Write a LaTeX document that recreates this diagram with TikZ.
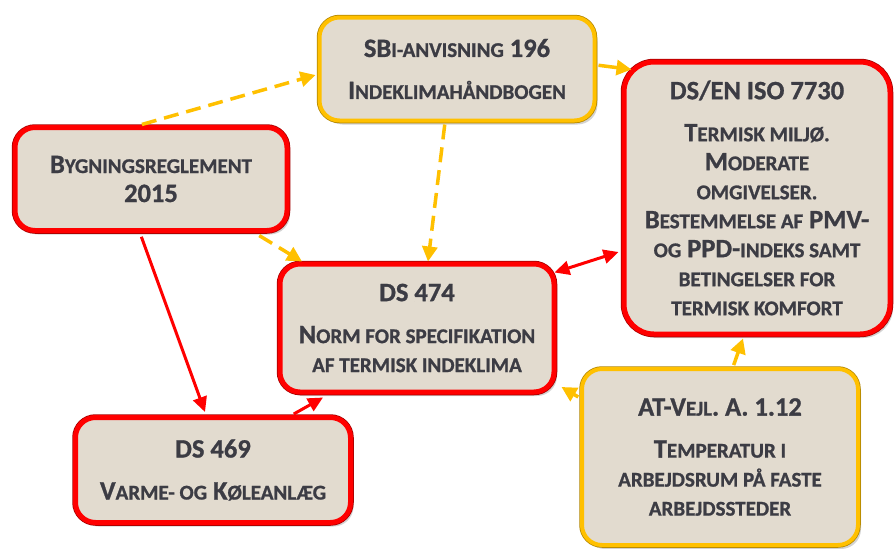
\documentclass[tikz,border=0pt]{standalone}
\usepackage{fontspec}
\setmainfont{Carlito}[BoldFeatures={FakeBold=1}]
\usepackage{tikz}
\usetikzlibrary{arrows.meta, shadows}

\definecolor{boxfill}{HTML}{E2DBCF}
\definecolor{txtgray}{HTML}{3C3C44}
\definecolor{redline}{HTML}{FF0000}
\definecolor{yelline}{HTML}{FFC000}

\tikzstyle{normbox}=[rounded corners=20pt, fill=boxfill, text=txtgray, align=center,
    inner sep=0pt, font=\bfseries\fontsize{26.5}{29}\selectfont,
    drop shadow={shadow xshift=3pt, shadow yshift=-4pt, opacity=0.35}]
\tikzstyle{redbox}=[normbox, preaction={draw=redline!65!black, line width=6.5pt}, draw=redline, line width=5pt]
\tikzstyle{yelbox}=[normbox, preaction={draw=yelline!70!black, line width=5.5pt}, draw=yelline, line width=4pt]
\tikzstyle{redarr}=[draw=redline, line width=3pt, -{Triangle[length=15pt,width=14pt]}]
\tikzstyle{yelarr}=[draw=yelline, line width=3.5pt, -{Triangle[length=15pt,width=15pt]}]
\tikzstyle{yeldash}=[yelarr, dash pattern=on 15pt off 8pt]
\newcommand{\sm}[1]{{\fontsize{21}{29}\selectfont #1}}

\begin{document}
\begin{tikzpicture}[x=1pt, y=-1pt]
    \useasboundingbox (0,0) rectangle (895,549);

    \node[yelbox, minimum width=275pt, minimum height=103pt] (sbi) at (457,69)
        {SB\sm{I-ANVISNING} 196\\[13pt] I\sm{NDEKLIMAHÅNDBOGEN}};
    \node[redbox, rounded corners=30pt, minimum width=266pt, minimum height=272pt] (iso) at (757,198)
        {DS/EN ISO 7730\\[13pt] T\sm{ERMISK MILJØ.}\\ M\sm{ODERATE}\\ \sm{OMGIVELSER.}\\
         B\sm{ESTEMMELSE AF} PMV-\\ \sm{OG} PPD-\sm{INDEKS SAMT}\\ \sm{BETINGELSER FOR}\\ \sm{TERMISK KOMFORT}};
    \node[redbox, minimum width=272pt, minimum height=103pt] (byg) at (151,179)
        {B\sm{YGNINGSREGLEMENT}\\ 2015};
    \node[redbox, minimum width=274pt, minimum height=128pt] (ds474) at (417,328)
        {DS 474\\[13pt] N\sm{ORM FOR SPECIFIKATION}\\ \sm{AF TERMISK INDEKLIMA}};
    \node[redbox, minimum width=275pt, minimum height=105pt] (ds469) at (213,470)
        {DS 469\\[13pt] V\sm{ARME- OG} K\sm{ØLEANLÆG}};
    \node[yelbox, minimum width=276pt, minimum height=176pt] (atv) at (720,457)
        {AT-V\sm{EJL}. A. 1.12\\[13pt] T\sm{EMPERATUR I}\\ \sm{ARBEJDSRUM PÅ FASTE}\\ \sm{ARBEJDSSTEDER}};

    \path
        ([xshift=-11pt]byg.north) edge[yeldash, shorten <=2pt] ([xshift=-2pt,yshift=-6pt]sbi.west)
        ([xshift=-12pt]sbi.south) edge[yeldash, shorten <=2pt] ([xshift=11pt]ds474.north)
        ([xshift=104pt]byg.south) edge[yeldash, shorten <=5pt] ([xshift=-115pt]ds474.north)
        ([yshift=4pt]sbi.east) edge[yelarr, shorten <=2pt] ([xshift=10pt,yshift=-10pt]iso.north west)
        ([xshift=-2pt,yshift=-11pt]ds474.north east) edge[redarr, {Triangle[length=15pt,width=14pt]}-{Triangle[length=15pt,width=14pt]}] ([xshift=-3pt,yshift=-54pt]iso.west)
        ([xshift=-11pt]byg.south) edge[redarr, shorten <=4pt] ([xshift=-8pt,yshift=3pt]ds469.north)
        ([xshift=79pt]ds469.north) edge[redarr, shorten <=2pt] ([xshift=-94pt,yshift=-3pt]ds474.south)
        ([yshift=59pt]atv.west) edge[yelarr, shorten <=2pt] ([xshift=5pt,yshift=-59pt]ds474.east)
        ([xshift=13pt]atv.north) edge[yeldash, shorten <=2pt] ([xshift=-14pt,yshift=-2pt]iso.south)
    ;
\end{tikzpicture}
\end{document}
